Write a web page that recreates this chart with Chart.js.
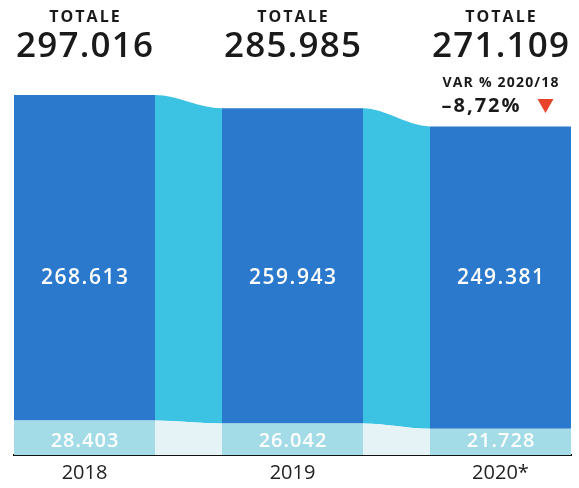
<!DOCTYPE html>
<html><head><meta charset="utf-8">
<script src="https://cdn.jsdelivr.net/npm/chart.js@4"></script>
<style>html,body{margin:0;padding:0;background:#fff}#wrap{width:579px;height:488px;position:relative}</style>
</head><body><div id="wrap"><canvas id="c" width="579" height="488"></canvas></div>
<script>
const years = ['2018', '2019', '2020*'];
const bottomValues = [28403, 26042, 21728];
const topValues = [268613, 259943, 249381];
const totals = [297016, 285985, 271109];
const totalLabel = 'TOTALE';
const varLabel = 'VAR % 2020/18';
const varValue = '\u20138,72%';

const BAR = 141, GAP = 67, STEP = BAR + GAP;
function pts(values) {
  const out = [];
  values.forEach((v, i) => { out.push({x: i * STEP, y: v}); out.push({x: i * STEP + BAR, y: v}); });
  return out;
}
function fmt(n) { return String(n).replace(/\B(?=(\d{3})+(?!\d))/g, '.'); }

const colors = {
  topBar: '#2a79cd', topLink: '#3cc2e2',
  botBar: '#a3dbe7', botLink: '#e6f3f6'
};

function txt(ctx, s, x, y, font, spacing) {
  ctx.font = font;
  ctx.letterSpacing = (spacing || 0) + 'px';
  ctx.fillText(s, x + (spacing || 0) / 2, y);
  ctx.letterSpacing = '0px';
}

const textPlugin = {
  id: 'texts',
  afterDatasetsDraw(chart) {
    const {ctx, scales: {x}, chartArea} = chart;
    ctx.save();
    ctx.textAlign = 'center';
    ctx.textBaseline = 'middle';
    years.forEach((yr, i) => {
      const cx = x.getPixelForValue(i * STEP + BAR / 2);
      ctx.fillStyle = '#1a1a1a';
      txt(ctx, totalLabel, cx, 17, 'bold 16px "Open Sans"', 2);
      txt(ctx, fmt(totals[i]), cx, 47, '600 35px "Open Sans"', 1.2);
      ctx.fillStyle = '#ffffff';
      txt(ctx, fmt(topValues[i]), cx, chartArea.bottom - 177, '600 21px "Open Sans"', 1.5);
      txt(ctx, fmt(bottomValues[i]), cx, chartArea.bottom - 14, '600 20px "Open Sans"', 1);
    });
    const cx2 = x.getPixelForValue(2 * STEP + BAR / 2);
    ctx.fillStyle = '#1a1a1a';
    txt(ctx, varLabel, cx2, 83, 'bold 14px "Open Sans"', 1.2);
    txt(ctx, varValue, cx2 - 20, 106, 'bold 20px "Open Sans"', 2);
    ctx.fillStyle = '#e8432b';
    ctx.beginPath();
    ctx.moveTo(cx2 + 37, 99);
    ctx.lineTo(cx2 + 53, 99);
    ctx.lineTo(cx2 + 45, 113);
    ctx.closePath();
    ctx.fill();
    ctx.restore();
  }
};

new Chart(document.getElementById('c'), {
  type: 'line',
  data: {
    datasets: [
      {
        data: pts(bottomValues), fill: 'origin', borderWidth: 0, pointRadius: 0,
        cubicInterpolationMode: 'monotone', backgroundColor: colors.botBar,
        segment: { backgroundColor: c => (c.p0DataIndex % 2 === 0 ? colors.botBar : colors.botLink) }
      },
      {
        data: pts(topValues), fill: '-1', borderWidth: 0, pointRadius: 0,
        cubicInterpolationMode: 'monotone', backgroundColor: colors.topBar,
        segment: { backgroundColor: c => (c.p0DataIndex % 2 === 0 ? colors.topBar : colors.topLink) }
      }
    ]
  },
  options: {
    responsive: false, animation: false,
    layout: { padding: { top: 55, left: 14, right: 8, bottom: 0 } },
    plugins: { legend: { display: false }, tooltip: { enabled: false } },
    scales: {
      x: {
        type: 'linear', min: 0, max: 2 * STEP + BAR,
        grid: { display: false, drawTicks: false },
        border: { display: true, color: '#111', width: 2 },
        afterBuildTicks: s => { s.ticks = years.map((_, i) => ({ value: i * STEP + BAR / 2 })); },
        afterFit: s => { s.height = 33; },
        ticks: {
          autoSkip: false, maxRotation: 0, padding: 6, color: '#222',
          font: { family: 'Open Sans', size: 20 },
          callback: (v, i) => years[i]
        }
      },
      y: { display: false, stacked: true, min: 0, max: 330000 }
    }
  },
  plugins: [textPlugin]
});
</script></body></html>
